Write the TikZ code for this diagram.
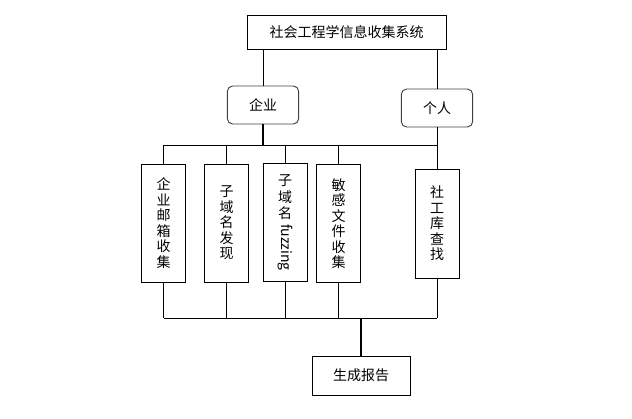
\documentclass[tikz,border=0pt]{standalone}
\usepackage{fontspec}
\setmainfont{Noto Sans CJK SC}
\usepackage{graphicx}
\usepackage{tikz}
\usetikzlibrary{positioning, calc}

\begin{document}
\begin{tikzpicture}[
        x=0.75pt, y=-0.75pt,
        every node/.style={font=\fontsize{10.5}{11.6}\selectfont},
        topbox/.style={rectangle, draw, line width=0.6pt, minimum width=149.25pt, minimum height=25.5pt, align=center},
        groupbox/.style={rectangle, rounded corners=4pt, draw=black!75, line width=0.7pt, minimum width=53.5pt, minimum height=28.5pt, align=center},
        taskbox/.style={rectangle, draw, line width=0.6pt, minimum width=33pt, minimum height=88.5pt, align=center, inner sep=1pt},
        reportbox/.style={rectangle, draw, line width=0.6pt, minimum width=73.5pt, minimum height=29.25pt, align=center},
        wire/.style={line width=0.6pt},
        mainwire/.style={line width=1.3pt}
    ]
        \useasboundingbox (0,0) rectangle (632,418);

        \node[topbox] (system) at (346.5,32) {社会工程学信息收集系统};
        \node[groupbox] (corp) at (263,105) {企业};
        \node[groupbox] (person) at (437,108) {个人};

        \node[taskbox] (mail) at (163.5,223) {企\\业\\邮\\箱\\收\\集};
        \node[taskbox] (subfind) at (226.5,223) {子\\域\\名\\发\\现};
        \node[taskbox] (subfuzz) at (285,222.5) {\shortstack{子\\域\\名\\\rotatebox{-90}{fuzzing}}};
        \node[taskbox] (files) at (338.5,223.5) {敏\\感\\文\\件\\收\\集};
        \node[taskbox, minimum height=81.75pt] (social) at (437,223.5) {社\\工\\库\\查\\找};

        \node[reportbox] (report) at (361,375.5) {生成报告};

        \coordinate (topbus) at (0,145);
        \coordinate (botbus) at (0,318);

        % system to its two groups
        \draw[wire] (system.south -| corp) -- (corp.north);
        \draw[wire] (system.south -| person) -- (person.north);

        % groups down to the tasks
        \draw[mainwire] (corp.south) -- (corp.south |- topbus);
        \draw[wire] (person.south) -- (social.north);
        \draw[wire] (mail.north |- topbus) -- (social.north |- topbus);
        \foreach \t in {mail, subfind, subfuzz, files}
            \draw[wire] (\t.north) -- (\t.north |- topbus);

        % tasks into the report
        \foreach \t in {mail, subfind, subfuzz, files, social}
            \draw[wire] (\t.south) -- (\t.south |- botbus);
        \draw[wire] (mail.south |- botbus) -- (social.south |- botbus);
        \draw[mainwire] (report.north |- botbus) -- (report.north);
    \end{tikzpicture}
\end{document}
